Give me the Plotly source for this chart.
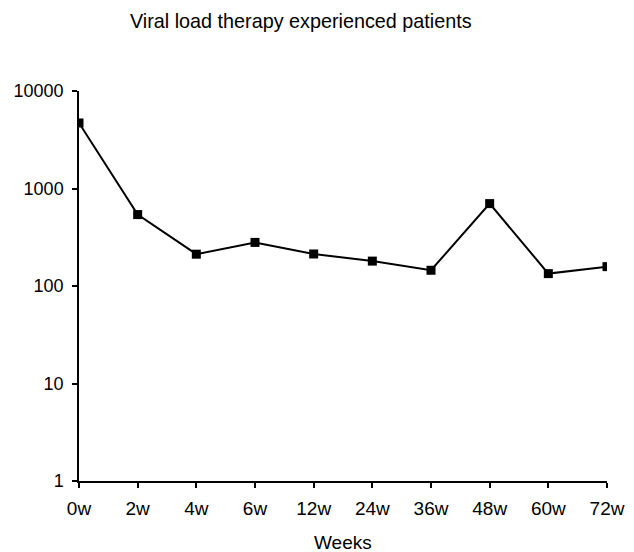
import plotly.graph_objects as go

weeks = ["0w", "2w", "4w", "6w", "12w", "24w", "36w", "48w", "60w", "72w"]
viral_load = [4700, 540, 212, 280, 213, 180, 145, 700, 134, 158]
y_ticks = [1, 10, 100, 1000, 10000]
y_tick_labels = ["1", "10", "100", "1000", "10000"]

OFF = 8  # default page body margin
W, H = 634 - OFF, 552 - OFF
L, T = 79 - OFF, 91 - OFF
R = 27
B = 71
plot_w = W - L - R
plot_h = H - T - B

FONT = "Liberation Sans, Arial, sans-serif"

fig = go.Figure()
fig.add_trace(go.Scatter(
    x=weeks, y=viral_load, mode="lines+markers",
    line=dict(color="black", width=2),
    marker=dict(symbol="square", size=9, color="black"),
    showlegend=False,
))

fig.update_layout(
    template="none",
    width=W, height=H,
    margin=dict(l=L, r=R, t=T, b=B, pad=0, autoexpand=False),
    paper_bgcolor="white", plot_bgcolor="white",
    font=dict(family=FONT, size=18, color="black"),
    xaxis=dict(
        type="category", range=[0, 9], automargin=False,
        showline=True, linecolor="black", linewidth=1.5,
        ticks="outside", ticklen=5, tickwidth=1.5, tickcolor="black",
        showgrid=False, zeroline=False,
        tickfont=dict(size=19), ticklabelstandoff=4,
    ),
    yaxis=dict(
        type="log", range=[0, 4], automargin=False,
        tickvals=y_ticks, ticktext=y_tick_labels,
        showline=True, linecolor="black", linewidth=1.5,
        ticks="outside", ticklen=5, tickwidth=1.5, tickcolor="black",
        showgrid=False, zeroline=False,
        tickfont=dict(size=18), ticklabelstandoff=5,
    ),
    annotations=[
        dict(text="Viral load therapy experienced patients",
             xref="paper", yref="paper",
             x=(301 - OFF - L) / plot_w, y=1 + (T - (21.5 - OFF)) / plot_h,
             xanchor="center", yanchor="middle", showarrow=False,
             font=dict(size=19.8)),
        dict(text="Weeks",
             xref="paper", yref="paper",
             x=(343 - OFF - L) / plot_w, y=-((542 - OFF) - (T + plot_h)) / plot_h,
             xanchor="center", yanchor="middle", showarrow=False,
             font=dict(size=19)),
    ],
)

fig.write_html("out.html")
